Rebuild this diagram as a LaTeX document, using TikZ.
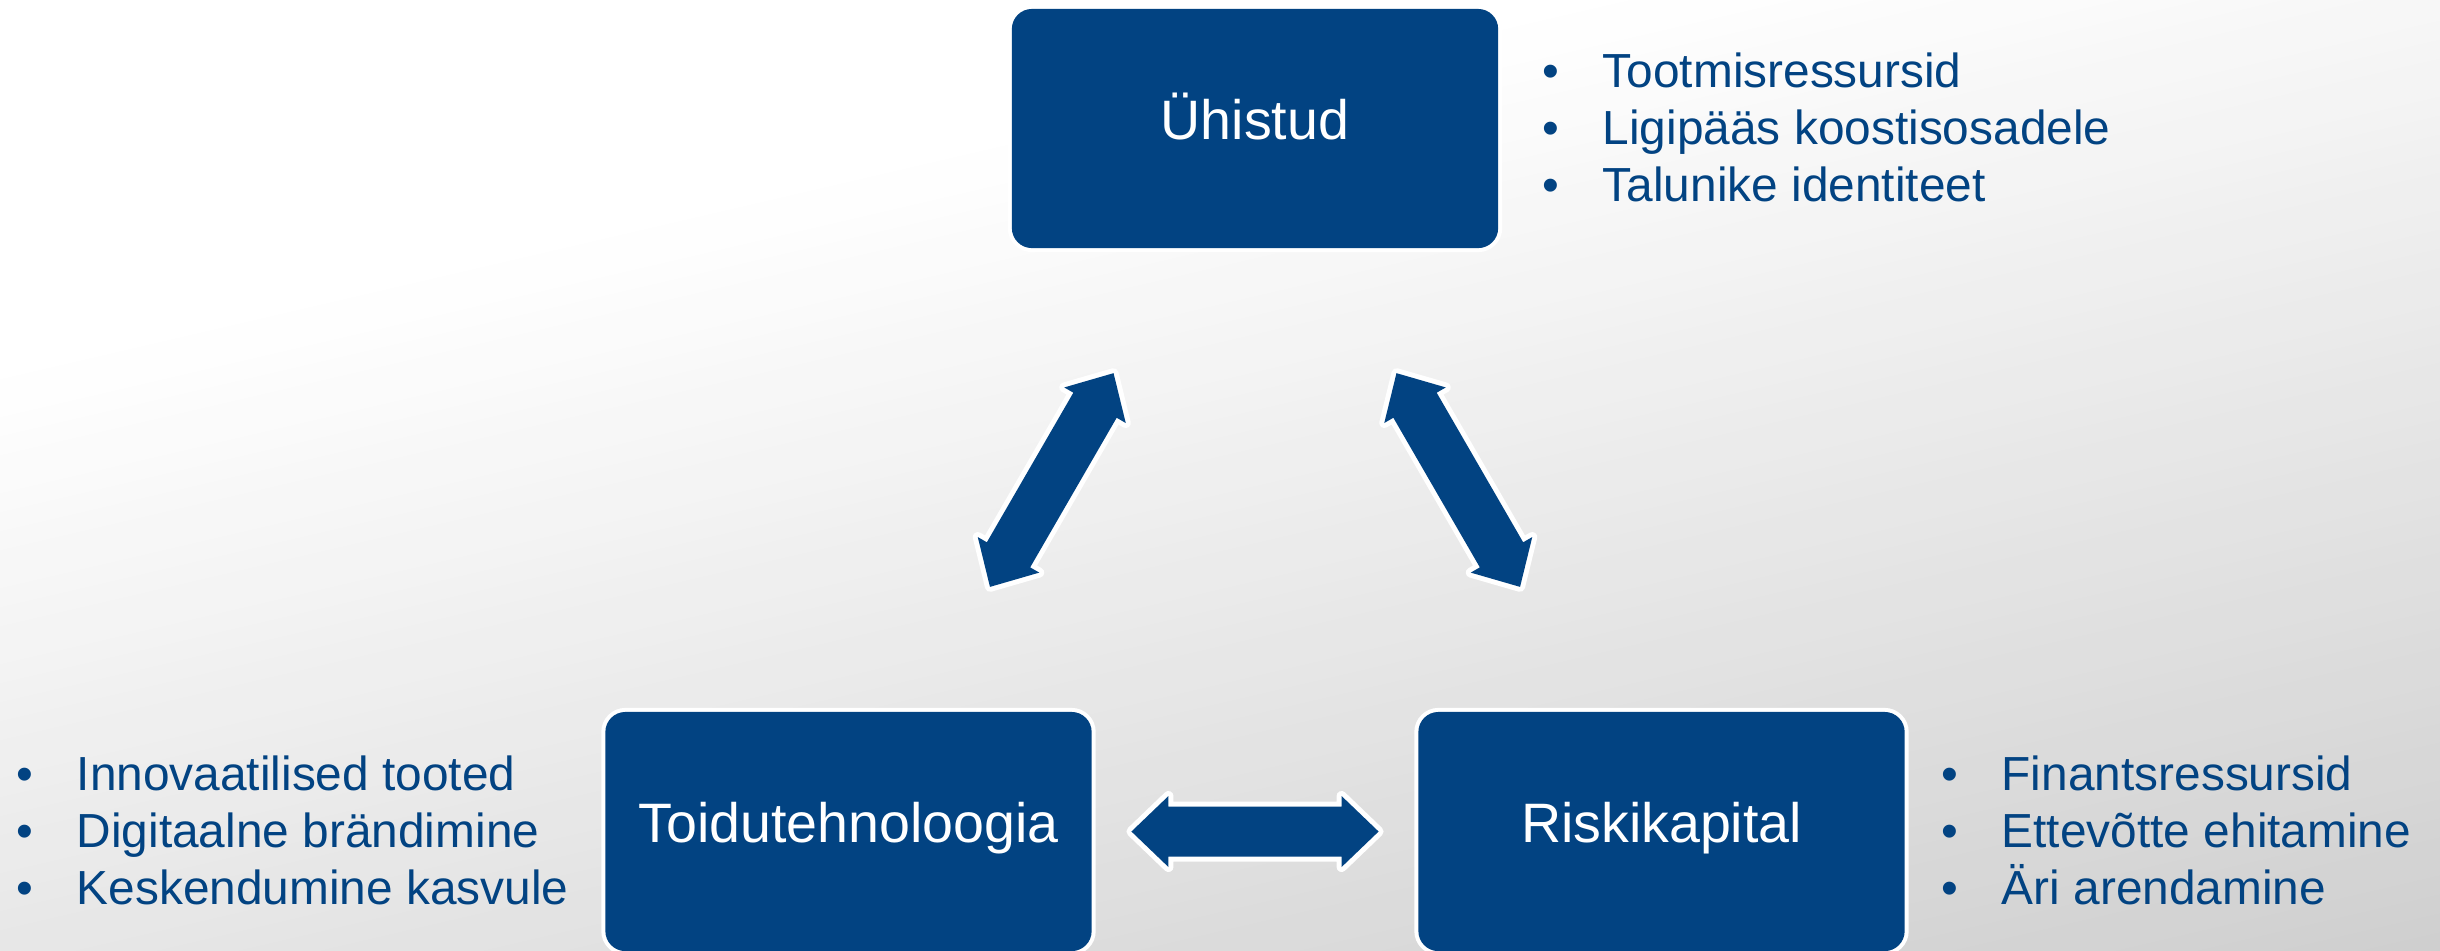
\documentclass[tikz,border=0pt]{standalone}
\usepackage{fontspec}
\setmainfont{Liberation Sans}
\usetikzlibrary{calc}

\definecolor{boxblue}{RGB}{2,67,130}
\definecolor{bgdark}{RGB}{207,207,207}

\tikzset{
  hub/.style={rectangle, rounded corners=0.2cm, fill=boxblue,
    preaction={draw=white, line width=2.3pt},
    minimum width=4.86cm, minimum height=2.39cm, inner sep=0pt,
    text height=0.75em, text depth=0.13em,
    text=white, font=\fontsize{15.8}{19}\selectfont},
  notes/.style={anchor=base west, inner sep=0pt, text=boxblue,
    font=\fontsize{13.6}{16.22}\selectfont},
  fatarrow/.style={fill=boxblue,
    preaction={draw=white, line width=2.85pt, line join=round}},
}

% bullet item with a fixed indent for the text
\newcommand\itm[1]{\makebox[0.6cm][l]{•}#1}

% double-headed block arrow lying on the line between two nodes
\newcommand\twoway[2]{%
  \coordinate (tA) at ($(#1)!0.348!(#2)$);
  \coordinate (tB) at ($(#1)!0.652!(#2)$);
  \path[fatarrow] (tA)
    -- ($(tA)!0.37cm!(tB)!0.355cm!90:(tB)$)
    -- ($(tA)!0.37cm!(tB)!0.25cm!90:(tB)$)
    -- ($(tB)!0.37cm!(tA)!0.25cm!-90:(tA)$)
    -- ($(tB)!0.37cm!(tA)!0.355cm!-90:(tA)$)
    -- (tB)
    -- ($(tB)!0.37cm!(tA)!0.355cm!90:(tA)$)
    -- ($(tB)!0.37cm!(tA)!0.25cm!90:(tA)$)
    -- ($(tA)!0.37cm!(tB)!0.25cm!-90:(tB)$)
    -- ($(tA)!0.37cm!(tB)!0.355cm!-90:(tB)$)
    -- cycle;
}

\begin{document}
\begin{tikzpicture}[x=0.01cm, y=-0.01cm]
\useasboundingbox (0,0) rectangle (2440,950);
\clip (0,0) rectangle (2440,950);

% background: white at the top left fading to light grey at the bottom right
\fill[white] (0,0) rectangle (2440,950);
\begin{scope}[rotate=13.1]
  \foreach \i in {0,...,59} {
    \pgfmathsetmacro\da{370+\i*18.5}
    \pgfmathsetmacro\db{\da+19.5}
    \pgfmathsetmacro\pc{(\i+0.5)/60*100}
    \fill[bgdark!\pc!white] (-1500,\da) rectangle (4000,\db);
  }
  \fill[bgdark] (-1500,1480) rectangle (4000,3000);
\end{scope}

% the three partners
\node[hub] (uh)   at (1255,128.5)  {Ühistud};
\node[hub] (tech) at (848.5,831.5) {Toidutehnoloogia};
\node[hub] (risk) at (1661.5,831.5) {Riskikapital};

% links between them
\twoway{tech}{uh}
\twoway{risk}{uh}
\twoway{tech}{risk}

% what each partner brings
\node[notes] (uhnotes) at (1542,87) {\begin{tabular}[t]{@{}l@{}}
  \itm{Tootmisressursid}\\
  \itm{Ligipääs koostisosadele}\\
  \itm{Talunike identiteet}
\end{tabular}};
\node[notes] (technotes) at (16,790) {\begin{tabular}[t]{@{}l@{}}
  \itm{Innovaatilised tooted}\\
  \itm{Digitaalne brändimine}\\
  \itm{Keskendumine kasvule}
\end{tabular}};
\node[notes] (risknotes) at (1941,790) {\begin{tabular}[t]{@{}l@{}}
  \itm{Finantsressursid}\\
  \itm{Ettevõtte ehitamine}\\
  \itm{Äri arendamine}
\end{tabular}};
\end{tikzpicture}
\end{document}
